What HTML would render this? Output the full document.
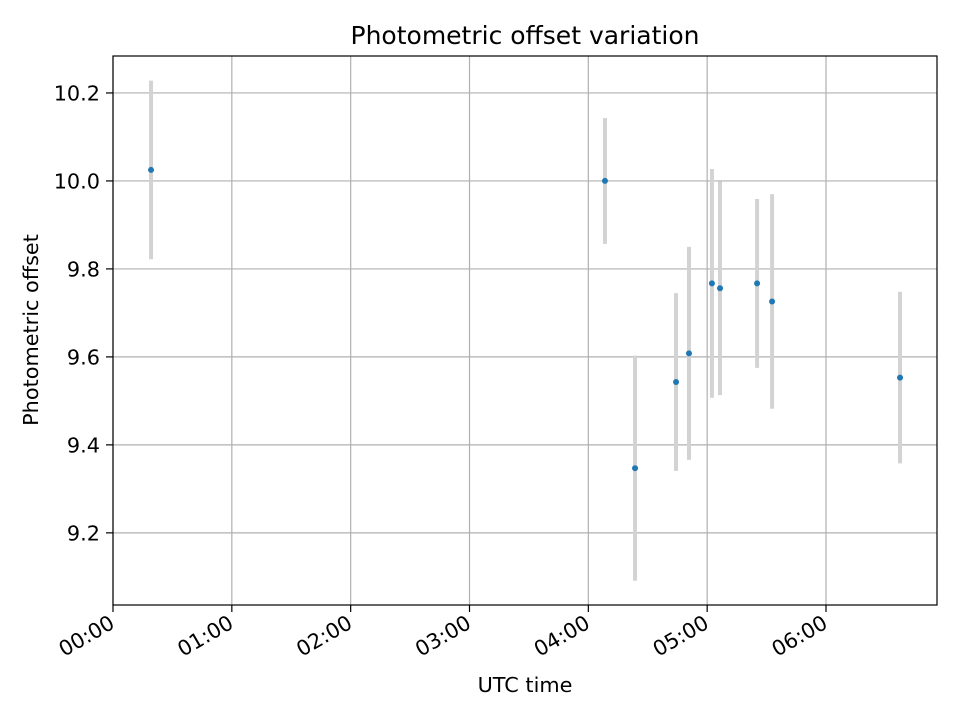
<!DOCTYPE html>
<html><head><meta charset="utf-8"><style>
body{margin:0;background:#fff;font-family:"Liberation Sans","DejaVu Sans",sans-serif;}
svg text{font-family:"DejaVu Sans","Liberation Sans",sans-serif;}
</style></head><body>
<svg id="chart" width="960" height="720" xmlns="http://www.w3.org/2000/svg">
<rect width="960" height="720" fill="#fff"/>
<g id="grid"></g>
<g id="errs"></g>
<g id="pts"></g>
<rect x="113" y="56" width="824" height="549" fill="none" stroke="#000" stroke-width="1.2"/>
<g id="xt"></g>
<g id="yt"></g>
<text x="525" y="44" style="font-size:25px" text-anchor="middle">Photometric offset variation</text>
<text x="525" y="692" style="font-size:20.8px" text-anchor="middle">UTC time</text>
<text x="38" y="330" style="font-size:20.8px" text-anchor="middle" transform="rotate(-90 38 330)">Photometric offset</text>
</svg>
<script>
const times=[0.32,4.14,4.393,4.738,4.847,5.04,5.108,5.42,5.546,6.623];
const values=[10.025,10.0,9.347,9.543,9.608,9.767,9.756,9.767,9.726,9.553];
const errors=[0.203,0.143,0.256,0.202,0.242,0.26,0.243,0.192,0.244,0.195];
const xTicks=[0,1,2,3,4,5,6];
const xTickLabels=["00:00","01:00","02:00","03:00","04:00","05:00","06:00"];
const yTicks=[9.2,9.4,9.6,9.8,10.0,10.2];
const yTickLabels=["9.2","9.4","9.6","9.8","10.0","10.2"];
const L=113,R=937,T=56,B=605,xMin=0,xMax=6.934,yMin=9.036,yMax=10.284;
const xs=v=>L+(v-xMin)/(xMax-xMin)*(R-L);
const ys=v=>B-(v-yMin)/(yMax-yMin)*(B-T);
const NS="http://www.w3.org/2000/svg";
function mk(tag,attrs,parent){const e=document.createElementNS(NS,tag);for(const k in attrs)e.setAttribute(k,attrs[k]);document.getElementById(parent).appendChild(e);return e;}
xTicks.forEach((t,i)=>{const x=xs(t);
 const g=mk('line',{x1:x,x2:x,y1:T,y2:B,stroke:'#b0b0b0','stroke-width':1.2},'grid');
 
 
 const tk=mk('line',{x1:x,x2:x,y1:B,y2:B+7,stroke:'#000','stroke-width':1.2},'xt');
 
 
 const ax=x+3, ay=B+22;
 const tx=mk('text',{x:ax,y:ay,style:'font-size:20.8px','text-anchor':'end',transform:`rotate(-30 ${ax} ${ay})`},'xt');
 tx.textContent=xTickLabels[i];
 
 
});
yTicks.forEach((t,i)=>{const y=ys(t);
 const g=mk('line',{x1:L,x2:R,y1:y,y2:y,stroke:'#b0b0b0','stroke-width':1.2},'grid');
 
 
 const tk=mk('line',{x1:L-7,x2:L,y1:y,y2:y,stroke:'#000','stroke-width':1.2},'yt');
 
 
 const tx=mk('text',{x:L-13,y:y+7.5,style:'font-size:20.8px','text-anchor':'end'},'yt');
 tx.textContent=yTickLabels[i];
 
 
});
times.forEach((t,i)=>{const x=xs(t);
 const e=mk('line',{x1:x,x2:x,y1:ys(values[i]+errors[i]),y2:ys(values[i]-errors[i]),stroke:'#d3d3d3','stroke-width':4},'errs');
 
 
 const p=mk('circle',{cx:x,cy:ys(values[i]),r:3,fill:'#1f77b4'},'pts');
 
 
});
</script>
</body></html>
